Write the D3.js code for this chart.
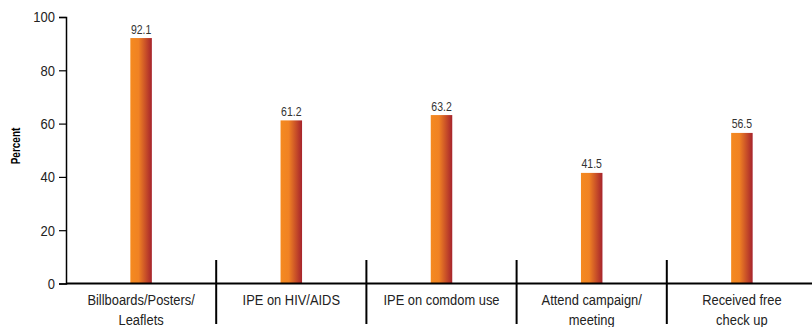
<!DOCTYPE html>
<html><head><meta charset="utf-8">
<script src="https://cdn.jsdelivr.net/npm/d3@7"></script>
<style>
html,body{margin:0;padding:0;background:#fff;}
svg{display:block;font-family:"Liberation Sans","Arial",sans-serif;}
</style></head>
<body><svg id="chart" width="812" height="327"></svg>
<script>
const categories = [["Billboards/Posters/","Leaflets"],["IPE on HIV/AIDS"],["IPE on comdom use"],["Attend campaign/","meeting"],["Received free","check up"]];
const values = [92.1, 61.2, 63.2, 41.5, 56.5];
const yTicks = [0,20,40,60,80,100];
const yLabel = "Percent";

const svg = d3.select("#chart");
const x0 = 66, x1 = 817, yTop = 17, yBot = 283.5;
const SX = 0.84; // horizontal condensing to mimic a narrow face
const x = d3.scaleBand().domain(d3.range(categories.length)).range([x0, x1]);
const y = d3.scaleLinear().domain([0,100]).range([yBot, yTop]);

const defs = svg.append("defs");
const g = defs.append("linearGradient").attr("id","barGrad").attr("x1","0%").attr("x2","100%").attr("y1","0%").attr("y2","0%");
g.append("stop").attr("offset","0%").attr("stop-color","#F58A1F");
g.append("stop").attr("offset","38%").attr("stop-color","#F08223");
g.append("stop").attr("offset","100%").attr("stop-color","#A6232C");

// y axis
const yAxis = svg.append("g").attr("transform",`translate(${x0},0)`)
  .call(d3.axisLeft(y).tickValues(yTicks).tickSize(7).tickPadding(4));
yAxis.select(".domain").attr("stroke","#000").attr("stroke-width",1.5);
yAxis.selectAll(".tick line").attr("stroke","#000").attr("stroke-width",1.2);
yAxis.selectAll(".tick text").attr("font-size",15.5).attr("fill","#222").attr("font-family","inherit")
  .attr("x",-11/SX).attr("transform",`scale(${SX},1)`);

svg.append("text").attr("transform",`translate(19.5,146) rotate(-90) scale(0.78,1)`)
  .attr("text-anchor","middle").attr("font-weight","bold").attr("font-size",12.8).attr("fill","#000").text(yLabel);

const bw = 21.5;
svg.selectAll("rect.bar").data(values).enter().append("rect").attr("class","bar")
  .attr("x",(d,i)=>x(i)+x.bandwidth()/2-bw/2).attr("width",bw)
  .attr("y",d=>y(d)).attr("height",d=>y(0)-y(d)).attr("fill","url(#barGrad)");

svg.selectAll("text.val").data(values).enter().append("text").attr("class","val")
  .attr("transform",(d,i)=>`translate(${x(i)+x.bandwidth()/2},${y(d)-4.5}) scale(${SX},1)`)
  .attr("text-anchor","middle").attr("font-size",12.5).attr("fill","#333").text(d=>d.toFixed(1));

// x axis line
svg.append("line").attr("x1",x0).attr("x2",812).attr("y1",y(0)).attr("y2",y(0)).attr("stroke","#000").attr("stroke-width",2.2);
// separators
svg.selectAll("line.sep").data(d3.range(1,categories.length)).enter().append("line").attr("class","sep")
  .attr("x1",i=>x(i)).attr("x2",i=>x(i)).attr("y1",260).attr("y2",324).attr("stroke","#000").attr("stroke-width",2);

const lab = svg.selectAll("text.cat").data(categories).enter().append("text").attr("class","cat")
  .attr("transform",(d,i)=>`translate(${x(i)+x.bandwidth()/2},305) scale(0.86,1)`)
  .attr("text-anchor","middle").attr("font-size",15).attr("fill","#222");
lab.each(function(lines){
  const t = d3.select(this);
  lines.forEach((l,k)=>t.append("tspan").attr("x",0).attr("y",k*20).text(l));
});
</script></body></html>
